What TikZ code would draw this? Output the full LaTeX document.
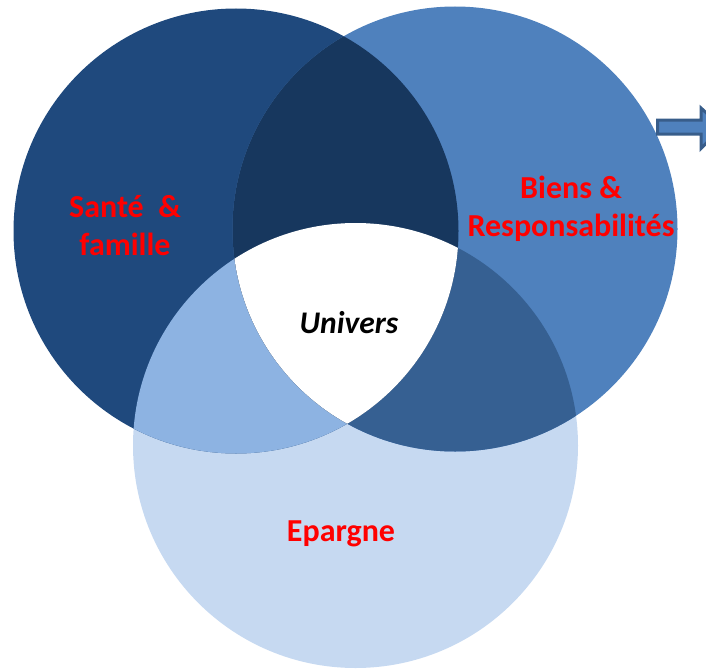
\documentclass[tikz,border=0pt]{standalone}
\usepackage{fontspec}
\setmainfont{Carlito}
\definecolor{cL}{HTML}{1F497D}
\definecolor{cR}{HTML}{4F81BD}
\definecolor{cB}{HTML}{C6D9F1}
\definecolor{cLR}{HTML}{17375E}
\definecolor{cLB}{HTML}{8DB3E2}
\definecolor{cRB}{HTML}{366092}
\definecolor{arrowline}{HTML}{385D8A}
\tikzset{
  lbl/.style={text=red, font=\bfseries\fontsize{32}{38}\selectfont, align=center, inner sep=0pt},
  ctr/.style={text=black, font=\bfseries\itshape\fontsize{31.5}{38}\selectfont, inner sep=0pt}
}
\begin{document}
\begin{tikzpicture}[x=1pt,y=-1pt]
\useasboundingbox (0,0) rectangle (706,669);
\clip (0,0) rectangle (706,669);
\def\rr{222.5}
\coordinate (CL) at (236,231);
\coordinate (CR) at (455,229);
\coordinate (CB) at (355.5,445.5);
% base circles
\fill[cB] (CB) circle[radius=\rr];
\fill[cL] (CL) circle[radius=\rr];
\fill[cR] (CR) circle[radius=\rr];
% pairwise overlaps
\begin{scope}
  \clip (CL) circle[radius=\rr];
  \fill[cLB] (CB) circle[radius=\rr];
\end{scope}
\begin{scope}
  \clip (CR) circle[radius=\rr];
  \fill[cRB] (CB) circle[radius=\rr];
\end{scope}
\begin{scope}
  \clip (CL) circle[radius=\rr];
  \fill[cLR] (CR) circle[radius=\rr];
\end{scope}
\begin{scope}
  \clip (CL) circle[radius=\rr];
  \clip (CR) circle[radius=\rr];
  \fill[white] (CB) circle[radius=\rr];
\end{scope}
% block arrow at right edge
\draw[arrowline, line width=3pt, fill=cR, line join=miter]
  (657.5,120) -- (701,120) -- (701,108) -- (722,127) -- (701,148.5) -- (701,134) -- (657.5,134) -- cycle;
% labels
\node[lbl] (sante) at (125,226) {Santé\ \ \&\\famille};
\node[lbl] (biens) at (571,209) {Biens \&\\Responsabilités};
\node[ctr] (univers) at (349,323) {Univers};
\node[lbl] (epargne) at (341,534) {Epargne};
\end{tikzpicture}
\end{document}
